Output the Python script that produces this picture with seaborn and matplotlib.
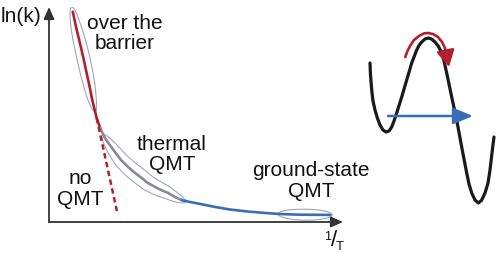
import numpy as np
import pandas as pd
import matplotlib
matplotlib.use("Agg")
import matplotlib.pyplot as plt
import seaborn as sns

# ---------------- data ----------------
inv_T = [0.81, 0.92, 1.05, 1.17, 1.28, 1.37, 1.45, 1.53, 1.62, 1.74,
         1.90, 2.08, 2.24, 2.45, 2.69, 2.93, 3.15, 3.37, 3.61, 3.81,
         4.05, 4.29, 4.51, 4.80, 5.14, 5.65, 6.16, 6.74, 7.35, 7.86,
         8.54, 9.56]
ln_k = [9.78, 9.07, 8.33, 7.63, 6.93, 6.37, 5.81, 5.35, 4.84, 4.37,
        3.91, 3.56, 3.26, 2.88, 2.56, 2.28, 2.05, 1.81, 1.63, 1.49,
        1.35, 1.16, 1.02, 0.93, 0.84, 0.70, 0.58, 0.49, 0.42, 0.37,
        0.34, 0.33]
RED_END = 9      # over-the-barrier regime ends here
GREY_END = 22    # thermal QMT regime ends here

no_qmt_x = [1.62, 2.31]
no_qmt_y = [4.84, 0.51]

# double-well potential (schematic on the right)
coord = [0.714, 0.750, 0.836, 0.929, 1.071, 1.250, 1.429, 1.643, 1.857, 2.071,
         2.264, 2.429, 2.621, 2.979, 3.336, 3.693, 4.050, 4.214, 4.407, 4.643,
         4.879, 5.107, 5.357, 5.607, 5.836, 6.000, 6.193, 6.550, 6.907, 7.264,
         7.621, 7.786, 7.979, 8.214, 8.450, 8.679, 8.929, 9.143, 9.286, 9.479,
         9.571]
energy = [7.85, 7.25, 6.50, 5.95, 5.50, 5.08, 4.75, 4.50, 4.40, 4.45,
          4.65, 4.95, 5.35, 6.15, 7.00, 7.85, 8.50, 8.73, 8.90, 9.05,
          9.10, 9.05, 8.90, 8.68, 8.35, 7.95, 7.35, 6.15, 5.00, 3.65,
          2.35, 1.80, 1.35, 1.00, 0.85, 0.98, 1.35, 1.85, 2.50, 3.65,
          4.15]
arc_x = [3.21, 3.36, 3.57, 3.86, 4.21, 4.57, 4.86, 5.21, 5.57, 5.86, 6.07]
arc_y = [8.10, 8.40, 8.70, 9.00, 9.20, 9.33, 9.35, 9.30, 9.15, 8.90, 8.60]
arc_tip = (6.36, 7.65)
tunnel_x = [2.00, 8.07]
tunnel_y = [5.20, 5.20]

labels = {"over": "over the\nbarrier", "thermal": "thermal\nQMT",
          "noqmt": "no\nQMT", "ground": "ground-state\nQMT"}

RED = "#b31f2c"
GREY = "#8c8799"
BLUE = "#3b6db5"
OUTLINE = "#9ea8b5"
AXC = "#333333"

# ---------------- figure ----------------
sns.set_theme(style="white")
plt.rcParams["font.family"] = ["Liberation Sans", "DejaVu Sans"]

W, H = 497, 259
fig = plt.figure(figsize=(W / 100, H / 100), dpi=100)
ax = fig.add_axes([49 / W, 37 / H, 294 / W, 215 / H])
ax.set_xlim(0, 10)
ax.set_ylim(0, 10)

segs = []
for name, a, b in [("red", 0, RED_END), ("grey", RED_END, GREY_END),
                   ("blue", GREY_END, len(inv_T) - 1)]:
    segs.append(pd.DataFrame({"x": inv_T[a:b + 1], "y": ln_k[a:b + 1], "seg": name}))
df = pd.concat(segs, ignore_index=True)
sns.lineplot(data=df, x="x", y="y", hue="seg", estimator=None, sort=False,
             palette={"red": RED, "grey": GREY, "blue": BLUE},
             linewidth=1.9, legend=False, ax=ax, zorder=3)
ax.set_xlim(0, 10)
ax.set_ylim(0, 10)
ax.axis("off")

# dashed extrapolation (no QMT)
ax.plot(no_qmt_x, no_qmt_y, color=RED, lw=1.8, ls=(0, (2.2, 1.4)), zorder=3)

# axes arrows
for end in [(0, 1), (1, 0)]:
    ax.annotate("", xy=end, xytext=(0, 0), xycoords="axes fraction",
                arrowprops=dict(arrowstyle="-|>,head_length=0.45,head_width=0.2",
                                color=AXC, lw=1.3, shrinkA=0, shrinkB=0,
                                mutation_scale=16))


def outline(a, b, half_w, ext):
    xs = np.array(inv_T[a:b + 1])
    ys = np.array(ln_k[a:b + 1])
    pts = ax.transData.transform(np.column_stack([xs, ys]))
    d = np.diff(pts, axis=0)
    seg = np.hypot(d[:, 0], d[:, 1])
    s = np.concatenate([[0], np.cumsum(seg)])
    S = s[-1]
    tan = np.gradient(pts, s, axis=0)
    tan /= np.hypot(tan[:, 0], tan[:, 1])[:, None]
    th = np.linspace(0, 2 * np.pi, 300)
    sq = S / 2 + (S / 2 + ext) * np.cos(th)
    nq = half_w * np.sin(th)
    px = np.interp(sq, s, pts[:, 0])
    py = np.interp(sq, s, pts[:, 1])
    lo, hi = sq < 0, sq > S
    px[lo] = pts[0, 0] + tan[0, 0] * sq[lo]
    py[lo] = pts[0, 1] + tan[0, 1] * sq[lo]
    px[hi] = pts[-1, 0] + tan[-1, 0] * (sq[hi] - S)
    py[hi] = pts[-1, 1] + tan[-1, 1] * (sq[hi] - S)
    tx = np.interp(np.clip(sq, 0, S), s, tan[:, 0])
    ty = np.interp(np.clip(sq, 0, S), s, tan[:, 1])
    nn = np.hypot(tx, ty)
    tx, ty = tx / nn, ty / nn
    ox = px - ty * nq
    oy = py + tx * nq
    dat = ax.transData.inverted().transform(np.column_stack([ox, oy]))
    ax.plot(dat[:, 0], dat[:, 1], color=OUTLINE, lw=0.8, zorder=2)


outline(0, 7, 6.5, 5)
outline(10, GREY_END, 8, 4)
outline(29, len(inv_T) - 1, 5.5, 2)

fs = 15
TXT = "#111111"
ax.text(2.585, 8.767, labels["over"], fontsize=fs, ha="center", va="center",
        linespacing=1.1, color=TXT)
ax.text(4.184, 3.140, labels["thermal"], fontsize=fs, ha="center", va="center",
        linespacing=1.1, color=TXT)
ax.text(1.054, 1.535, labels["noqmt"], fontsize=fs, ha="center", va="center",
        linespacing=1.1, color=TXT)
ax.text(8.912, 1.907, labels["ground"], fontsize=fs, ha="center", va="center",
        linespacing=1.1, color=TXT)
ax.text(-1.63, 9.535, "ln(k)", fontsize=fs, ha="left", va="center",
        color=TXT, clip_on=False)
ax.text(9.46, -0.70, "1", fontsize=9, ha="center", va="center", color=TXT)
ax.text(9.69, -0.86, "/", fontsize=16, ha="center", va="center", color=TXT)
ax.text(9.88, -1.14, "T", fontsize=9.5, ha="center", va="center", color=TXT)

# ---------------- potential schematic ----------------
ax2 = fig.add_axes([360 / W, 39 / H, 140 / W, 200 / H])
sns.lineplot(x=coord, y=energy, sort=False, estimator=None, color="#1a1a1a",
             linewidth=2.3, ax=ax2)
ax2.set_xlim(0, 10)
ax2.set_ylim(0, 10)
for ln in ax2.lines:
    ln.set_solid_joinstyle("round")
    ln.set_solid_capstyle("round")
ax2.plot(arc_x, arc_y, color=RED, lw=1.9, solid_capstyle="butt")
ax2.annotate("", xy=arc_tip, xytext=(arc_x[-1], arc_y[-1]),
             arrowprops=dict(arrowstyle="-|>,head_length=0.55,head_width=0.3",
                             color=RED, lw=1.9, shrinkA=0, shrinkB=0,
                             mutation_scale=18))
ax2.annotate("", xy=(tunnel_x[1], tunnel_y[1]), xytext=(tunnel_x[0], tunnel_y[0]),
             arrowprops=dict(arrowstyle="-|>,head_length=0.6,head_width=0.25",
                             color=BLUE, lw=1.8, shrinkA=0, shrinkB=0,
                             mutation_scale=20))
ax2.axis("off")

fig.savefig("out.png", dpi=100)
